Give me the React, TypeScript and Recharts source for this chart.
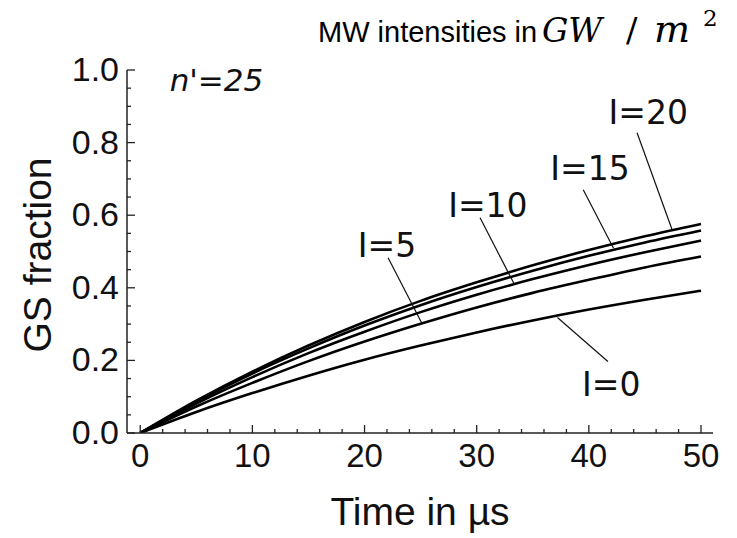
import {
  LineChart,
  Line,
  XAxis,
  YAxis,
  ReferenceLine,
  ReferenceDot,
} from "recharts";

// time axis (µs)
const times = [0, 5, 10, 15, 20, 25, 30, 35, 40, 45, 50];

// ground-state fraction for each MW intensity (GW/m²)
const gsI0 = [0, 0.058, 0.11, 0.158, 0.202, 0.241, 0.277, 0.31, 0.34, 0.367, 0.392];
const gsI5 = [0, 0.073, 0.138, 0.198, 0.252, 0.301, 0.346, 0.386, 0.422, 0.456, 0.486];
const gsI10 = [0, 0.081, 0.154, 0.22, 0.279, 0.333, 0.381, 0.424, 0.463, 0.498, 0.53];
const gsI15 = [0, 0.086, 0.164, 0.233, 0.296, 0.352, 0.402, 0.447, 0.488, 0.525, 0.558];
const gsI20 = [0, 0.089, 0.169, 0.241, 0.306, 0.364, 0.415, 0.462, 0.504, 0.542, 0.576];

const xTicks = [0, 2, 4, 6, 8, 10, 12, 14, 16, 18, 20, 22, 24, 26, 28, 30, 32, 34, 36, 38, 40, 42, 44, 46, 48, 50];
const yTicks = [0, 0.05, 0.1, 0.15, 0.2, 0.25, 0.3, 0.35, 0.4, 0.45, 0.5, 0.55, 0.6, 0.65, 0.7, 0.75, 0.8, 0.85, 0.9, 0.95, 1];

// curve annotations: label centre and pointer line, in data units
const labels = [
  { text: "I=20", lx: 45.3, ly: 0.884, from: [44.3, 0.827], to: [47.4, 0.562] },
  { text: "I=15", lx: 40.1, ly: 0.73, from: [39.5, 0.67], to: [42.2, 0.509] },
  { text: "I=10", lx: 31.0, ly: 0.628, from: [30.3, 0.593], to: [33.3, 0.413] },
  { text: "I=5", lx: 22.0, ly: 0.518, from: [22.1, 0.483], to: [25.1, 0.303] },
  { text: "I=0", lx: 42.0, ly: 0.133, from: [41.7, 0.197], to: [37.2, 0.318] },
];

const series = [
  { key: "i0", values: gsI0 },
  { key: "i5", values: gsI5 },
  { key: "i10", values: gsI10 },
  { key: "i15", values: gsI15 },
  { key: "i20", values: gsI20 },
];

const data = times.map((t, i) => {
  const row: Record<string, number> = { t };
  series.forEach((s) => (row[s.key] = s.values[i]));
  return row;
});

const SANS = "'Liberation Sans', Arial, sans-serif";
const SERIF = "'DejaVu Serif', serif";
const AXIS_COLOR = "#222";

function XTick({ x, y, payload }: any) {
  const major = payload.value % 10 === 0;
  return (
    <g>
      <line x1={x} y1={y} x2={x} y2={y - (major ? 8 : 4)} stroke={AXIS_COLOR} strokeWidth={1.3} />
      {major && (
        <text x={x} y={y + 34} textAnchor="middle" fontSize={33} fontFamily={SANS} fill="#111">
          {payload.value}
        </text>
      )}
    </g>
  );
}

function YTick({ x, y, payload }: any) {
  const v = payload.value;
  const major = Math.abs(v * 5 - Math.round(v * 5)) < 1e-6;
  return (
    <g>
      <line x1={x} y1={y} x2={x + (major ? 8 : 4)} y2={y} stroke={AXIS_COLOR} strokeWidth={1.3} />
      {major && (
        <text x={x - 8} y={y + 11} textAnchor="end" fontSize={34} fontFamily={SANS} fill="#111">
          {v.toFixed(1)}
        </text>
      )}
    </g>
  );
}

export default function App() {
  return (
    <div style={{ position: "absolute", left: 0, top: 0, width: 737, height: 538, background: "#fff" }}>
      <LineChart
        width={737}
        height={538}
        data={data}
        margin={{ top: 70, right: 24, bottom: 0, left: 0 }}
      >
        <XAxis
          dataKey="t"
          type="number"
          domain={[-1.18, 51.07]}
          ticks={xTicks}
          interval={0}
          height={105}
          tickSize={0}
          tickMargin={0}
          tickLine={false}
          tick={<XTick />}
          stroke={AXIS_COLOR}
          strokeWidth={1.5}
          allowDataOverflow
        />
        <YAxis
          type="number"
          domain={[0, 1]}
          ticks={yTicks}
          interval={0}
          width={127}
          tickSize={0}
          tickMargin={0}
          tickLine={false}
          tick={<YTick />}
          stroke={AXIS_COLOR}
          strokeWidth={1.5}
          allowDataOverflow
        />
        {series.map((s) => (
          <Line
            key={s.key}
            dataKey={s.key}
            type="monotone"
            stroke="#000"
            strokeWidth={2.6}
            dot={false}
            isAnimationActive={false}
          />
        ))}
        {labels.map((l) => (
          <ReferenceLine
            key={`seg-${l.text}`}
            segment={[
              { x: l.from[0], y: l.from[1] },
              { x: l.to[0], y: l.to[1] },
            ]}
            stroke="#111"
            strokeWidth={1.2}
          />
        ))}
        {labels.map((l) => (
          <ReferenceDot
            key={`lbl-${l.text}`}
            x={l.lx}
            y={l.ly}
            r={0}
            fill="none"
            stroke="none"
            label={{
              value: l.text,
              position: "center",
              fill: "#111",
              fontSize: 33,
              fontFamily: "'DejaVu Sans', sans-serif",
            }}
          />
        ))}
        <ReferenceDot
          x={6.8}
          y={0.972}
          r={0}
          fill="none"
          stroke="none"
          label={{
            value: "n'=25",
            position: "center",
            fill: "#111",
            fontSize: 31,
            fontStyle: "italic",
            fontFamily: "'DejaVu Sans', sans-serif",
          }}
        />
      </LineChart>
      <svg width={737} height={538} style={{ position: "absolute", left: 0, top: 0, pointerEvents: "none" }}>
        <text y={42} fontSize={29} fontFamily={SANS} fill="#000">
          <tspan x={318}>MW intensities in</tspan>
          <tspan x={542} fontFamily={SERIF} fontStyle="italic" fontSize={33}>GW</tspan>
          <tspan x={626} fontFamily={SERIF} fontSize={34}>/</tspan>
          <tspan x={654} fontFamily={SERIF} fontStyle="italic" fontSize={38}>m</tspan>
          <tspan x={703} dy={-16} fontFamily={SERIF} fontSize={23}>2</tspan>
        </text>
        <text
          x={51}
          y={255}
          transform="rotate(-90 51 255)"
          textAnchor="middle"
          fontSize={39}
          fontFamily={SANS}
          fill="#111"
        >
          GS fraction
        </text>
        <text x={420} y={525} textAnchor="middle" fontSize={39} fontFamily={SANS} fill="#111">
          Time in µs
        </text>
      </svg>
    </div>
  );
}
